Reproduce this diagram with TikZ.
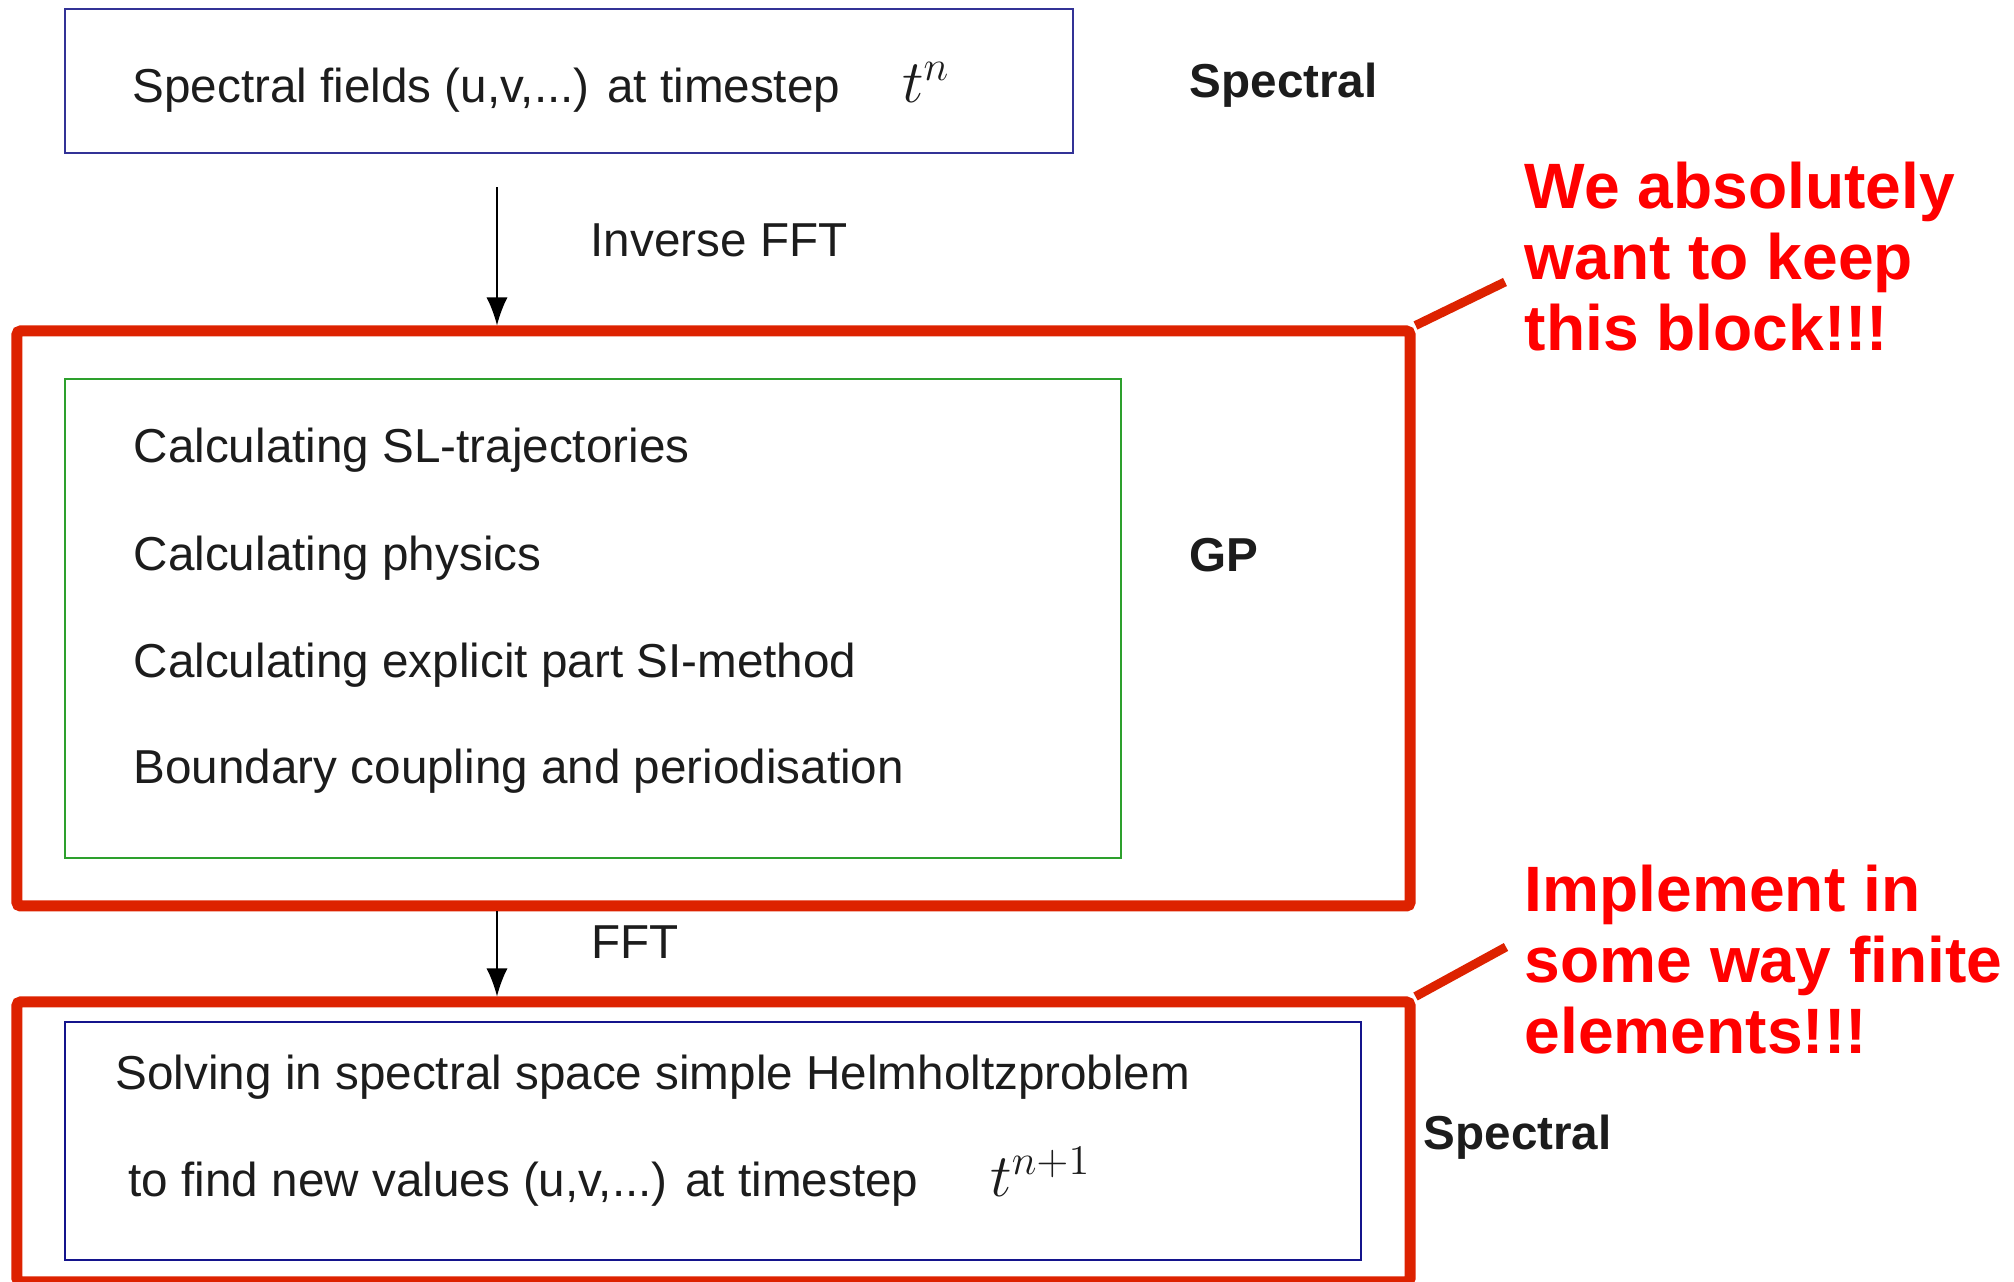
\documentclass[tikz,border=0pt]{standalone}
\usepackage[no-math]{fontspec}
\setmainfont{Liberation Sans}
\usetikzlibrary{arrows.meta, positioning}

\definecolor{specblue}{RGB}{50,50,150}
\definecolor{gpgreen}{RGB}{45,160,45}
\definecolor{helmblue}{RGB}{20,20,140}
\definecolor{framered}{RGB}{221,34,0}
\definecolor{notered}{RGB}{255,0,0}
\definecolor{ink}{RGB}{28,28,28}

\begin{document}
\begin{tikzpicture}[
    box/.style={rectangle, draw, line width=0.6pt, inner sep=0pt},
    frm/.style={rectangle, draw=framered, line width=1.1mm, rounded corners=1pt, inner sep=0pt},
    txt/.style={anchor=base west, inner sep=0pt, text=ink, font=\fontsize{13.55}{16}\selectfont},
    tag/.style={txt, font=\fontsize{13.55}{16}\selectfont\bfseries},
    remark/.style={anchor=north west, inner sep=0pt, align=left, text=notered,
                   font=\fontsize{18.25}{20.2}\selectfont\bfseries},
    arr/.style={-{Latex[length=2.8mm, width=2.1mm]}, line width=0.45pt},
    callout/.style={draw=framered, line width=0.9mm}
]
\useasboundingbox (0,0) rectangle (20.14,12.82);

% Spectral fields at t^n
\node[box, draw=specblue, minimum width=10.08cm, minimum height=1.44cm] (spec1) at (5.69,12.01) {};
\node[txt] (fields) at (1.32,11.79) {Spectral fields (u,v,...) at timestep\hspace{0.62cm}\fontsize{16.5}{18}\selectfont$t^n$};
\node[tag] (lblspec1) at (11.89,11.84) {Spectral};

% Grid point block
\node[frm, minimum width=13.93cm, minimum height=5.75cm] (gpframe) at (7.135,6.635) {};
\node[box, draw=gpgreen, minimum width=10.56cm, minimum height=4.79cm] (physbox) at (5.93,6.635) {};
\node[txt] (traj)  at (1.33,8.19) {Calculating SL-trajectories};
\node[txt] (phys)  at ([yshift=-1.08cm]traj.base west) {Calculating physics};
\node[txt] (expl)  at ([yshift=-1.07cm]phys.base west) {Calculating explicit part SI-method};
\node[txt] (bound) at ([yshift=-1.06cm]expl.base west) {Boundary coupling and periodisation};
\node[tag] (lblgp) at (11.89,7.10) {GP};

% Spectral solve
\node[frm, minimum width=13.93cm, minimum height=2.80cm] (spframe) at (7.135,1.40) {};
\node[box, draw=helmblue, minimum width=12.96cm, minimum height=2.38cm] (helmbox) at (7.13,1.41) {};
\node[txt] (solve)  at (1.15,1.92) {Solving in spectral space simple Helmholtzproblem};
\node[txt] (newval) at (1.28,0.85) {to find new values (u,v,...) at timestep\hspace{0.72cm}\fontsize{16.5}{18}\selectfont$t^{n+1}$};
\node[tag] (lblspec2) at (14.23,1.32) {Spectral};

% Transforms
\coordinate (fftaxis) at ([xshift=-0.72cm]spec1.south);
\draw[arr, shorten <=0.33cm] (fftaxis) -- (fftaxis |- gpframe.north);
\node[txt] (invfft) at (5.90,10.25) {Inverse FFT};
\draw[arr] (fftaxis |- gpframe.south) -- (fftaxis |- spframe.north);
\node[txt] (fft) at (5.91,3.23) {FFT};

% Remarks
\node[remark] (keep) at (15.24,11.21) {We absolutely\\want to keep\\this block!!!};
\node[remark] (fem)  at (15.24,4.18) {Implement in\\some way finite\\elements!!!};
\coordinate (keeptip) at (15.05,10.00);
\coordinate (femtip)  at (15.06,3.35);
\draw[callout] (gpframe.north east) -- (keeptip);
\draw[callout] (spframe.north east) -- (femtip);
\end{tikzpicture}
\end{document}
